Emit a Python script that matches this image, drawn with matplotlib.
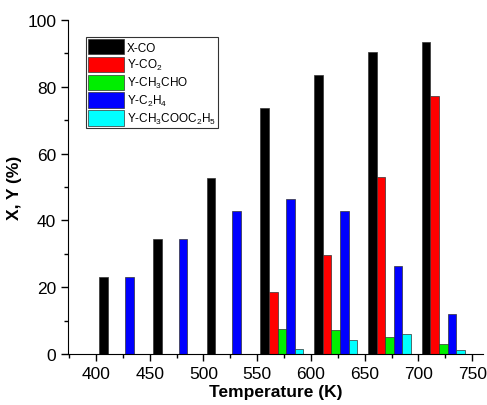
import matplotlib
matplotlib.use("Agg")
import matplotlib.pyplot as plt
import numpy as np
from matplotlib.ticker import MultipleLocator

plt.rcParams['font.family'] = ['Liberation Sans', 'DejaVu Sans']
plt.rcParams['mathtext.fontset'] = 'custom'
plt.rcParams['mathtext.rm'] = 'Liberation Sans'
plt.rcParams['mathtext.it'] = 'Liberation Sans:italic'
plt.rcParams['mathtext.bf'] = 'Liberation Sans:bold'

temps = [423, 473, 523, 573, 623, 673, 723]
x_co = [23.0, 34.5, 52.8, 73.7, 83.6, 90.4, 93.3]
y_co2 = [0, 0, 0, 18.5, 29.6, 53.1, 77.3]
y_ch3cho = [0, 0, 0, 7.6, 7.1, 5.0, 2.9]
y_c2h4 = [23.0, 34.5, 42.8, 46.3, 42.8, 26.4, 12.0]
y_ester = [0, 0, 0, 1.6, 4.3, 6.0, 1.1]

series = [
    ("X-CO", x_co, "#000000"),
    ("Y-CO$_\\mathrm{2}$", y_co2, "#ff0000"),
    ("Y-CH$_\\mathrm{3}$CHO", y_ch3cho, "#00ee00"),
    ("Y-C$_\\mathrm{2}$H$_\\mathrm{4}$", y_c2h4, "#0000ff"),
    ("Y-CH$_\\mathrm{3}$COOC$_\\mathrm{2}$H$_\\mathrm{5}$", y_ester, "#00ffff"),
]

fig = plt.figure(figsize=(4.87, 4.06), dpi=100)
ax = fig.add_axes([68/487, 1-355/406, (483-68)/487, (355-21)/406])

w = 8
t = np.array(temps)
for i, (lab, vals, col) in enumerate(series):
    ax.bar(t + (i-2)*w, vals, width=w, color=col, edgecolor="#333333",
           linewidth=0.5, label=lab)

ax.set_xlim(374, 760)
ax.set_ylim(0, 100)
ax.xaxis.set_major_locator(MultipleLocator(50))
ax.xaxis.set_minor_locator(MultipleLocator(25))
ax.yaxis.set_major_locator(MultipleLocator(20))
ax.yaxis.set_minor_locator(MultipleLocator(10))
ax.spines['top'].set_visible(False)
ax.spines['right'].set_visible(False)
ax.tick_params(which='major', direction='out', length=5, width=1, labelsize=12.5)
ax.tick_params(which='minor', direction='out', length=3, width=1)
ax.set_xlabel("Temperature (K)", fontsize=12.5, fontweight='bold', labelpad=2)
ax.set_ylabel("X, Y (%)", fontsize=12.5, fontweight='bold', labelpad=4)

leg = ax.legend(loc='upper left', bbox_to_anchor=(0.043, 0.95), fontsize=8.5,
                frameon=True, fancybox=False, edgecolor='black',
                handlelength=3.0, handleheight=1.6, handletextpad=0.3,
                labelspacing=0.2, borderpad=0.2, borderaxespad=0)
leg.get_frame().set_linewidth(0.8)

fig.savefig("out.png", dpi=100)
